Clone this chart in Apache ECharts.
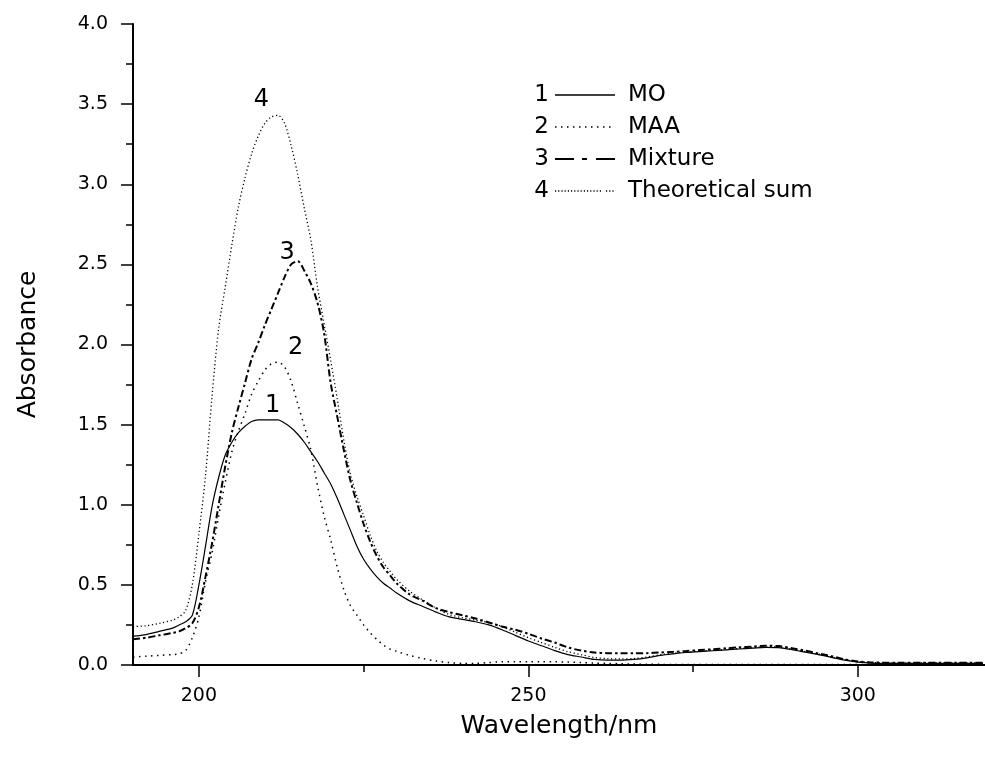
<!DOCTYPE html>
<html>
<head>
<meta charset="utf-8">
<script src="https://cdn.jsdelivr.net/npm/echarts@6/dist/echarts.min.js"></script>
<style>
html,body{margin:0;padding:0;background:#fff;}
#chart{width:985px;height:758px;}
</style>
</head>
<body>
<div id="chart"></div>
<script>
// Wavelength grid (nm)
const wavelengths = [190,192,194,196,197,198,199,
  200,201,202,203,204,205,206,207,208,209,210,211,212,213,214,215,216,217,218,219,220,221,222,223,224,225,226,227,228,229,230,
  232,234,236,238,240,242,244,246,248,250,252,254,256,258,260,262,264,266,268,270,272,274,276,278,280,282,284,286,288,290,292,294,296,298,300,
  302,306,310,315,319];

// 1 MO
const moValues = [0.18,0.19,0.21,0.23,0.25,0.27,0.31,
  0.50,0.74,0.99,1.17,1.31,1.39,1.45,1.49,1.52,1.53,1.53,1.53,1.53,1.51,1.48,1.44,1.39,1.33,1.27,1.20,1.13,1.04,0.94,0.84,0.74,0.66,0.60,0.55,0.51,0.48,0.45,
  0.40,0.365,0.33,0.30,0.285,0.27,0.25,0.22,0.185,0.15,0.12,0.09,0.065,0.05,0.035,0.03,0.03,0.035,0.045,0.06,0.07,0.078,0.084,0.089,0.094,0.10,0.105,0.11,0.108,0.095,0.08,0.065,0.048,0.03,0.018,
  0.012,0.01,0.01,0.01,0.01];

// 2 MAA
const maaValues = [0.05,0.055,0.06,0.065,0.07,0.09,0.17,
  0.30,0.52,0.70,0.93,1.14,1.33,1.46,1.57,1.69,1.77,1.84,1.88,1.89,1.86,1.77,1.63,1.49,1.34,1.12,0.93,0.78,0.61,0.47,0.37,0.31,0.25,0.20,0.16,0.125,0.10,0.085,
  0.06,0.04,0.025,0.015,0.01,0.01,0.015,0.02,0.02,0.02,0.02,0.02,0.018,0.015,0.012,0.01,0.008,0.006,0.005,0.004,0.003,0.003,0.003,0.003,0.003,0.003,0.003,0.003,0.003,0.003,0.003,0.003,0.003,0.003,0.003,
  0.003,0.003,0.003,0.003,0.003];

// 3 Mixture
const mixtureValues = [0.16,0.17,0.185,0.20,0.21,0.23,0.26,
  0.36,0.55,0.76,1.00,1.24,1.45,1.61,1.76,1.91,2.01,2.12,2.22,2.32,2.42,2.50,2.52,2.46,2.38,2.26,2.07,1.76,1.55,1.34,1.15,1.01,0.88,0.77,0.68,0.61,0.56,0.51,
  0.44,0.40,0.355,0.33,0.31,0.29,0.265,0.24,0.22,0.195,0.165,0.14,0.11,0.09,0.078,0.074,0.073,0.073,0.074,0.078,0.082,0.087,0.093,0.098,0.104,0.11,0.115,0.12,0.118,0.105,0.09,0.072,0.055,0.035,0.022,
  0.016,0.014,0.014,0.014,0.014];

// 4 Theoretical sum
const sumValues = [0.24,0.245,0.26,0.28,0.30,0.34,0.50,
  0.82,1.18,1.68,2.10,2.36,2.62,2.86,3.04,3.19,3.30,3.38,3.42,3.43,3.38,3.24,3.06,2.85,2.65,2.36,2.13,1.90,1.66,1.40,1.19,1.05,0.93,0.81,0.71,0.64,0.585,0.535,
  0.46,0.405,0.355,0.315,0.295,0.28,0.265,0.24,0.205,0.17,0.14,0.11,0.083,0.065,0.047,0.04,0.038,0.04,0.05,0.064,0.073,0.081,0.087,0.092,0.097,0.103,0.108,0.113,0.111,0.098,0.083,0.068,0.05,0.033,0.021,
  0.015,0.013,0.013,0.013,0.013];

const seriesNames = ['MO','MAA','Mixture','Theoretical sum'];
const seriesNumbers = ['1','2','3','4'];
const xMajorTicks = [200,250,300];
const xMinorTicks = [225,275];
// curve number labels: [wavelength, absorbance]
const curveLabelPos = [[211.2,1.62],[214.7,1.98],[213.4,2.57],[209.5,3.53]];

const FONT = 'DejaVu Sans';
const pairs = vals => wavelengths.map((w,i)=>[w, vals[i]]);

const lineStyles = [
  {color:'#000', width:1.2, type:'solid'},
  {color:'#000', width:1.5, type:[1.5,4.5]},
  {color:'#000', width:2, type:[7,3,2.5,3]},
  {color:'#000', width:1.3, type:[1.2,2.6]}
];
const allValues = [moValues, maaValues, mixtureValues, sumValues];

const series = allValues.map((vals, i) => ({
  name: seriesNames[i],
  type: 'line',
  xAxisIndex: 0,
  yAxisIndex: 0,
  data: pairs(vals),
  showSymbol: false,
  symbol: 'none',
  smooth: 0.3,
  lineStyle: lineStyles[i],
  silent: true,
  animation: false,
  markPoint: {
    symbol: 'circle',
    symbolSize: 0,
    silent: true,
    label: {show: true, position: 'inside', formatter: seriesNumbers[i], color: '#000', fontSize: 24, fontFamily: FONT},
    data: [{coord: curveLabelPos[i]}]
  }
}));

const chart = echarts.init(document.getElementById('chart'), null, {renderer:'canvas'});

// legend built as graphic elements
const legendX = 549, legendLineX1 = 555, legendLineX2 = 615, legendTextX = 628;
const legendYs = [95,127,159,191];
const LFONT = '23px "DejaVu Sans"';
const legendGraphics = [];
legendYs.forEach((y, i) => {
  legendGraphics.push({type:'text', x: legendX, y: y, style:{text: seriesNumbers[i], font: LFONT, fill:'#000', align:'right', verticalAlign:'middle'}});
  legendGraphics.push({type:'text', x: legendTextX, y: y, style:{text: seriesNames[i], font: LFONT, fill:'#000', align:'left', verticalAlign:'middle'}});
});
legendGraphics.push({type:'line', shape:{x1:legendLineX1,y1:legendYs[0],x2:legendLineX2,y2:legendYs[0]}, style:{stroke:'#000', lineWidth:1.3}});
legendGraphics.push({type:'line', shape:{x1:legendLineX1,y1:legendYs[1],x2:legendLineX2,y2:legendYs[1]}, style:{stroke:'#000', lineWidth:1.5, lineDash:[1.5,4.5]}});
legendGraphics.push({type:'line', shape:{x1:legendLineX1,y1:legendYs[2],x2:legendLineX2,y2:legendYs[2]}, style:{stroke:'#000', lineWidth:2, lineDash:[19,8,5,9]}});
legendGraphics.push({type:'line', shape:{x1:legendLineX1,y1:legendYs[3],x2:601,y2:legendYs[3]}, style:{stroke:'#000', lineWidth:1.3, lineDash:[1.2,2]}});
legendGraphics.push({type:'line', shape:{x1:606,y1:legendYs[3],x2:legendLineX2,y2:legendYs[3]}, style:{stroke:'#000', lineWidth:1.3, lineDash:[1.2,2]}});

chart.setOption({
  animation: false,
  backgroundColor: '#fff',
  grid: {left: 133, right: 0, top: 24, bottom: 93},
  xAxis: [{
    type: 'value', min: 190, max: 319.3, position: 'bottom',
    axisLine: {show: true, onZero: false, lineStyle: {color: '#000', width: 2}},
    axisTick: {show: true, customValues: xMajorTicks, length: 12, inside: false, lineStyle: {color: '#000', width: 1.5}},
    axisLabel: {show: true, customValues: xMajorTicks, fontSize: 19, fontFamily: FONT, color: '#000', margin: 22},
    splitLine: {show: false},
    name: 'Wavelength/nm', nameLocation: 'middle', nameGap: 49,
    nameTextStyle: {fontSize: 25, fontFamily: FONT, color: '#000'}
  },{
    type: 'value', min: 190, max: 319.3, position: 'bottom',
    axisLine: {show: false, onZero: false},
    axisTick: {show: true, customValues: xMinorTicks, length: 7, inside: false, lineStyle: {color: '#000', width: 1.5}},
    axisLabel: {show: false},
    splitLine: {show: false}
  }],
  yAxis: [{
    type: 'value', min: 0, max: 4, interval: 0.5,
    axisLine: {show: true, onZero: false, lineStyle: {color: '#000', width: 2}},
    axisTick: {show: true, length: 12, inside: false, lineStyle: {color: '#000', width: 1.5}},
    minorTick: {show: true, splitNumber: 2, length: 7, lineStyle: {color: '#000', width: 1.5}},
    axisLabel: {fontSize: 19, fontFamily: FONT, color: '#000', margin: 25, formatter: v => v.toFixed(1)},
    splitLine: {show: false},
    name: 'Absorbance', nameLocation: 'middle', nameGap: 92,
    nameTextStyle: {fontSize: 25, fontFamily: FONT, color: '#000'}
  }],
  series: series,
  graphic: legendGraphics
});
</script>
</body>
</html>
